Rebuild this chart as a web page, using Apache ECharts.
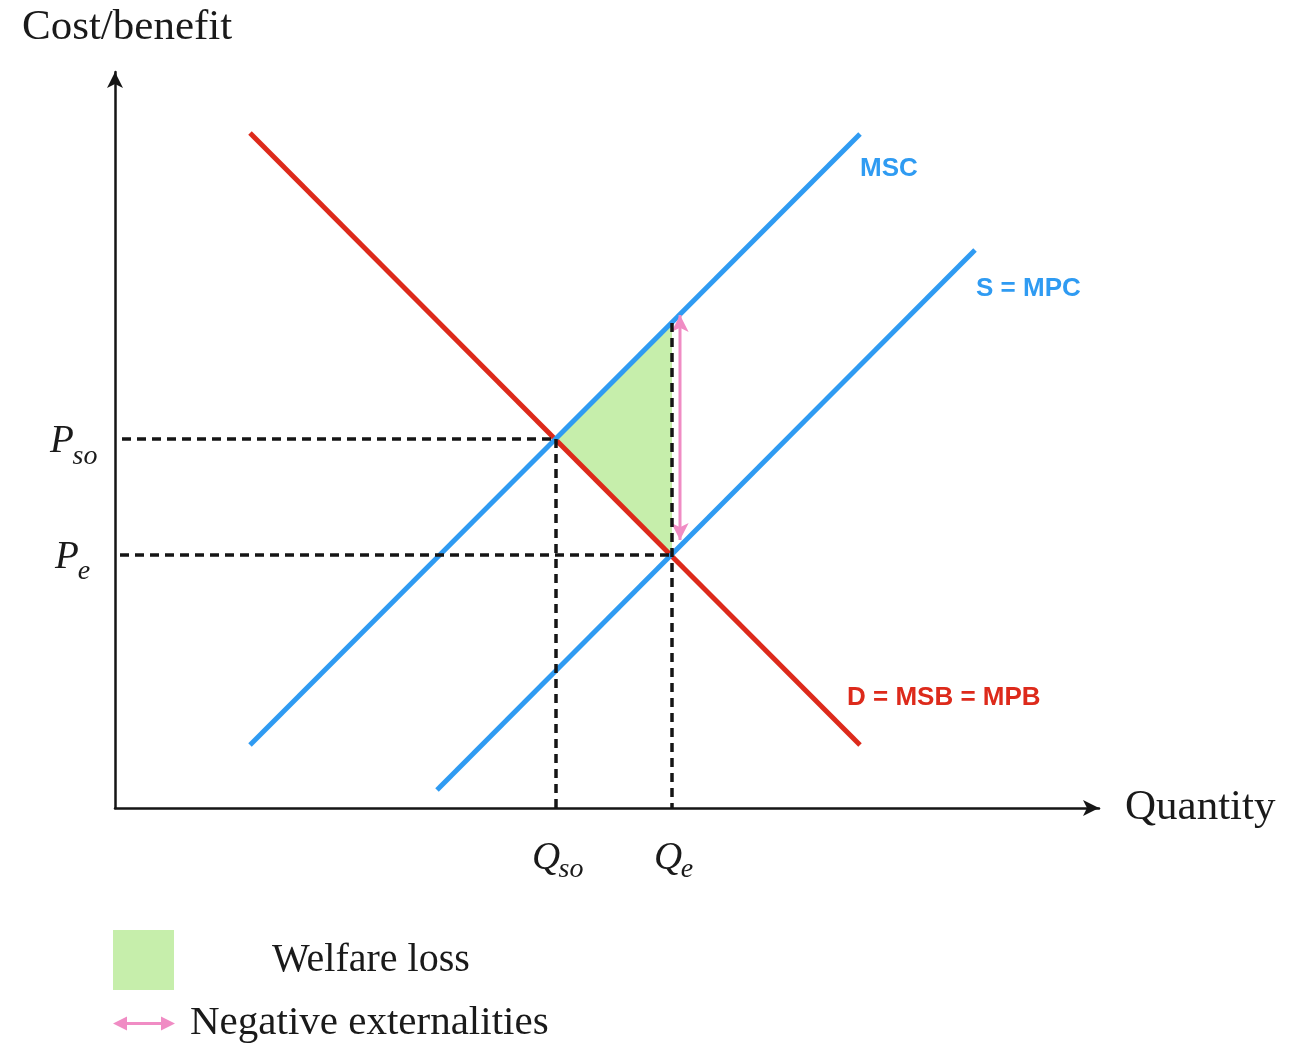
<!DOCTYPE html>
<html>
<head>
<meta charset="utf-8">
<script src="https://cdn.jsdelivr.net/npm/echarts@6/dist/echarts.min.js"></script>
<style>html,body{margin:0;padding:0;background:#fff}#chart{width:1301px;height:1047px}</style>
</head>
<body>
<div id="chart"></div>
<script>
// ---- data (units: arbitrary quantity / cost units) ----
const demandLine = [[13.5, 67.5], [74.5, 6.3]];      // D = MSB = MPB
const mscLine = [[13.5, 6.3], [74.5, 67.4]];         // MSC
const mpcLine = [[32.2, 1.8], [86.0, 55.8]];         // S = MPC
const Qso = 44.1, Pso = 36.9;                        // social optimum
const Qe = 55.7, Pe = 25.3;                          // market equilibrium
const mscAtQe = 48.5;                                // MSC at Qe
const welfareLoss = [[Qso, Pso], [Qe, mscAtQe], [Qe, Pe]];
const externalityArrowX = 56.5;
const externalityArrowY = [49.3, 26.8];
const curveNames = ['MSC', 'S = MPC', 'D = MSB = MPB'];
const priceLabels = [{main: 'P', sub: 'so', v: Pso}, {main: 'P', sub: 'e', v: Pe}];
const qtyLabels = [{main: 'Q', sub: 'so', v: Qso}, {main: 'Q', sub: 'e', v: Qe}];
const legendNames = ['Welfare loss', 'Negative externalities'];

const BLUE = '#2f9bf2', RED = '#dd2a1b', GREEN = '#c6eeab', PINK = '#f08cc4', INK = '#151515';
const SERIF = '"Liberation Serif", "DejaVu Serif", serif';
const SANS = '"Liberation Sans", Arial, sans-serif';

const chart = echarts.init(document.getElementById('chart'), null, {renderer: 'canvas'});

const dashStyle = {color: INK, width: 3.5, type: [9, 6]};
function dashSeries(data) {
  return {type: 'line', data: data, showSymbol: false, symbol: 'none', silent: true,
    lineStyle: dashStyle, z: 4, animation: false};
}
function curve(data, color) {
  return {type: 'line', data: data, showSymbol: false, symbol: 'none', silent: true,
    lineStyle: {color: color, width: 5, cap: 'butt'}, z: 3, animation: false};
}

const option = {
  backgroundColor: '#fff',
  animation: false,
  title: {text: 'Cost/benefit', left: 22, top: 6, padding: 0,
    textStyle: {fontFamily: SERIF, fontSize: 43, fontWeight: 'normal', color: '#1a1a1a'}},
  grid: {left: 115, right: 202, top: 72, bottom: 239, containLabel: false},
  xAxis: {type: 'value', min: 0, max: 98.4,
    axisLine: {show: true, onZero: true, symbol: ['none', 'arrow'], symbolSize: [12, 16],
      lineStyle: {color: INK, width: 2.5}},
    axisTick: {show: false}, axisLabel: {show: false}, splitLine: {show: false},
    name: 'Quantity', nameLocation: 'end', nameGap: 26,
    nameTextStyle: {fontFamily: SERIF, fontSize: 43, color: '#1a1a1a'}},
  yAxis: {type: 'value', min: 0, max: 73.6,
    axisLine: {show: true, onZero: true, symbol: ['none', 'arrow'], symbolSize: [12, 16],
      lineStyle: {color: INK, width: 2.5}},
    axisTick: {show: false}, axisLabel: {show: false}, splitLine: {show: false}},
  legend: [
    {data: [legendNames[0]], left: 113, top: 930, padding: 0, orient: 'vertical', selectedMode: false,
      itemWidth: 61, itemHeight: 60, icon: 'rect',
      textStyle: {fontFamily: SERIF, fontSize: 40, color: '#1a1a1a', padding: [8, 0, 0, 93]}},
    {data: [legendNames[1]], left: 113, top: 1003, padding: 0, orient: 'vertical', selectedMode: false,
      itemWidth: 62, itemHeight: 15,
      icon: 'path://M0,7 L14,0 L14,5.5 L48,5.5 L48,0 L62,7 L48,14 L48,8.5 L14,8.5 L14,14 Z',
      textStyle: {fontFamily: SERIF, fontSize: 41, color: '#1a1a1a', padding: [6, 0, 0, 10]}}
  ],
  series: [
    {name: legendNames[0], type: 'custom', silent: true, z: 1,
      itemStyle: {color: GREEN},
      data: [welfareLoss[0]],
      renderItem: function (params, api) {
        const pts = welfareLoss.map(p => api.coord(p));
        return {type: 'polygon', shape: {points: pts}, style: {fill: GREEN}};
      }},
    curve(demandLine, RED),
    curve(mscLine, BLUE),
    curve(mpcLine, BLUE),
    {name: legendNames[1], type: 'line', silent: true, z: 3, color: PINK,
      lineStyle: {color: PINK, width: 3}, itemStyle: {color: PINK},
      symbol: 'arrow', symbolSize: [13, 17], showSymbol: true,
      data: [
        {value: [externalityArrowX, externalityArrowY[0]], symbolRotate: 0},
        {value: [externalityArrowX, externalityArrowY[1]], symbolRotate: 180}
      ]},
    dashSeries([[0.7, Pso], [Qso, Pso]]),
    dashSeries([[0.5, Pe], [Qe, Pe]]),
    dashSeries([[Qso, Pso], [Qso, 0]]),
    dashSeries([[Qe, mscAtQe], [Qe, 0]]),
    // curve name labels
    {type: 'scatter', silent: true, symbolSize: 0, z: 6, itemStyle: {opacity: 1},
      data: [
        {value: mscLine[1], label: {show: true, formatter: curveNames[0], position: [0, 35], align: 'left', verticalAlign: 'middle', color: BLUE}},
        {value: mpcLine[1], label: {show: true, formatter: curveNames[1], position: [1, 39], align: 'left', verticalAlign: 'middle', color: BLUE}},
        {value: demandLine[1], label: {show: true, formatter: curveNames[2], position: [-13, -47], align: 'left', verticalAlign: 'middle', color: RED}}
      ],
      label: {fontFamily: SANS, fontWeight: 'bold', fontSize: 26, opacity: 1}},
    // axis marker main letters
    {type: 'scatter', silent: true, symbolSize: 0, z: 6, itemStyle: {opacity: 1},
      data: priceLabels.map((p, i) => ({value: [0, p.v], label: {formatter: p.main, offset: i === 0 ? [-53, 3] : [-48, 3]}}))
        .concat(qtyLabels.map((q, i) => ({value: [q.v, 0], label: {formatter: q.main, offset: i === 0 ? [-10, 51] : [-4, 51]}}))),
      label: {show: true, position: 'inside', fontFamily: SERIF, fontStyle: 'italic', fontSize: 39, color: '#1a1a1a', opacity: 1}},
    // axis marker subscripts
    {type: 'scatter', silent: true, symbolSize: 0, z: 6, itemStyle: {opacity: 1},
      data: priceLabels.map((p, i) => ({value: [0, p.v], label: {formatter: p.sub, offset: i === 0 ? [-30, 18] : [-31, 17]}}))
        .concat(qtyLabels.map((q, i) => ({value: [q.v, 0], label: {formatter: q.sub, offset: i === 0 ? [15, 62] : [15, 62]}}))),
      label: {show: true, position: 'inside', fontFamily: SERIF, fontStyle: 'italic', fontSize: 28, color: '#1a1a1a', opacity: 1}}
  ]
};
chart.setOption(option);
</script>
</body>
</html>
